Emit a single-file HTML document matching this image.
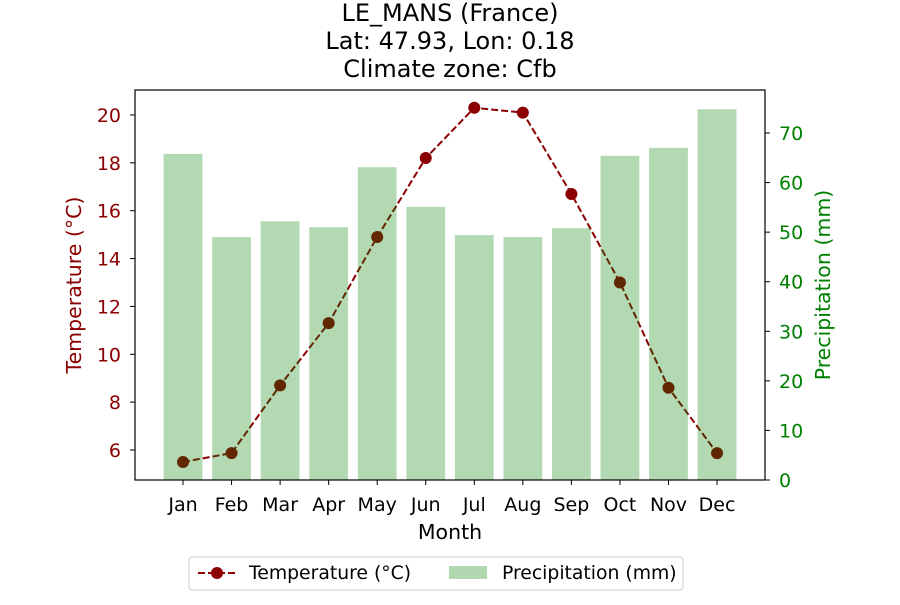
<!DOCTYPE html>
<html><head><meta charset="utf-8"><style>
body{margin:0;background:#fff;}
svg text{font-family:"DejaVu Sans","Liberation Sans",sans-serif;}
</style></head><body>
<svg id="chart" width="900" height="600" xmlns="http://www.w3.org/2000/svg">
<text x="450" y="21" font-size="24" text-anchor="middle">LE_MANS (France)</text>
<text x="450" y="49" font-size="24" text-anchor="middle">Lat: 47.93, Lon: 0.18</text>
<text x="450" y="77" font-size="24" text-anchor="middle">Climate zone: Cfb</text>
<g id="line"></g>
<g id="bars"></g>
<rect x="135" y="90" width="630" height="390" fill="none" stroke="#000" stroke-width="1.2"/>
<g id="axes"></g>
<text x="450" y="539" font-size="20.5" text-anchor="middle">Month</text>
<text transform="translate(81,285) rotate(-90)" font-size="20.5" text-anchor="middle" fill="#8b0000">Temperature (°C)</text>
<text transform="translate(830,285) rotate(-90)" font-size="20.5" text-anchor="middle" fill="#008000">Precipitation (mm)</text>
<g>
<rect x="189" y="557" width="494" height="33" rx="3" fill="#fff" stroke="#ccc"/>
<line x1="198" y1="573" x2="236" y2="573" stroke="#8b0000" stroke-width="2" stroke-dasharray="7,3"/>
<circle cx="217" cy="573" r="6" fill="#8b0000"/>
<text x="249" y="579" font-size="18.8">Temperature (°C)</text>
<rect x="449" y="566" width="38" height="13" fill="#b2d8b2"/>
<text x="502" y="579" font-size="18.8">Precipitation (mm)</text>
</g>
</svg>
<script>
const months=["Jan","Feb","Mar","Apr","May","Jun","Jul","Aug","Sep","Oct","Nov","Dec"];
const temps=[5.5,5.87,8.7,11.3,14.9,18.2,20.3,20.1,16.7,13.0,8.6,5.87];
const precip=[65.8,49.0,52.2,51.0,63.1,55.1,49.4,49.0,50.8,65.4,67.0,74.8];
const tempTicks=[6,8,10,12,14,16,18,20];
const precipTicks=[0,10,20,30,40,50,60,70];
const NS="http://www.w3.org/2000/svg";
const x=i=>183+i*48.55;
const yT=v=>450-(v-6)*23.93;
const yP=v=>480-v*4.957;
function mk(tag,attrs,parent,text){const e=document.createElementNS(NS,tag);for(const k in attrs)e.setAttribute(k,attrs[k]);if(text!==undefined)e.textContent=text;document.getElementById(parent).appendChild(e);return e;}
precip.forEach((v,i)=>{const r=mk("rect",{x:x(i)-19.4,y:yP(v),width:38.8,height:480-yP(v),fill:"#008000","fill-opacity":0.3},"bars");

});
const pl=mk("polyline",{points:temps.map((v,i)=>x(i)+","+yT(v)).join(" "),fill:"none",stroke:"#8b0000","stroke-width":2,"stroke-dasharray":"7,3"},"line");


temps.forEach((v,i)=>{const c=mk("circle",{cx:x(i),cy:yT(v),r:6,fill:"#8b0000"},"line");

});
months.forEach((m,i)=>{mk("line",{x1:x(i),x2:x(i),y1:480,y2:485,stroke:"#000"},"axes");
const t=mk("text",{x:x(i),y:511,"font-size":19,"text-anchor":"middle"},"axes",m);

});
tempTicks.forEach(v=>{mk("line",{x1:130,x2:135,y1:yT(v),y2:yT(v),stroke:"#000"},"axes");
const t=mk("text",{x:121,y:yT(v)+7,"font-size":19,"text-anchor":"end",fill:"#8b0000"},"axes",v);

});
precipTicks.forEach(v=>{mk("line",{x1:765,x2:770,y1:yP(v),y2:yP(v),stroke:"#000"},"axes");
const t=mk("text",{x:779,y:yP(v)+7,"font-size":19,fill:"#008000"},"axes",v);

});
</script>
</body></html>
